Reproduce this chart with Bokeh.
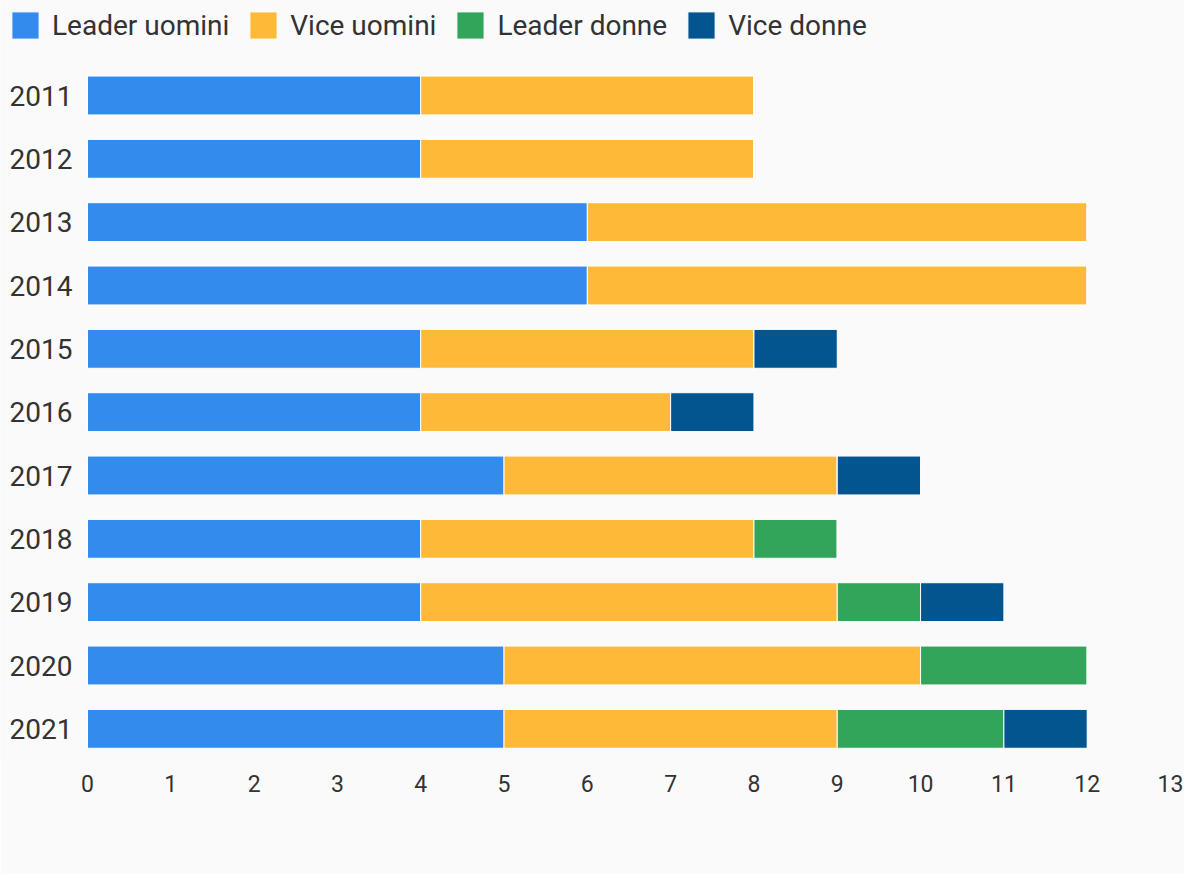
from bokeh.plotting import figure
from bokeh.models import FactorRange, Range1d, Legend, LegendItem, FixedTicker
from bokeh.core.properties import value
from bokeh.embed import file_html
from bokeh.resources import INLINE

years = ["2011", "2012", "2013", "2014", "2015", "2016", "2017", "2018", "2019", "2020", "2021"]
leader_uomini = [4, 4, 6, 6, 4, 4, 5, 4, 4, 5, 5]
vice_uomini = [4, 4, 6, 6, 4, 3, 4, 4, 5, 5, 4]
leader_donne = [0, 0, 0, 0, 0, 0, 0, 1, 1, 2, 2]
vice_donne = [0, 0, 0, 0, 1, 1, 1, 0, 1, 0, 1]
series_names = ["Leader uomini", "Vice uomini", "Leader donne", "Vice donne"]
colors = ["#338BEE", "#FFB938", "#33A55A", "#03558F"]
x_ticks = list(range(0, 14))

FONT = "Roboto"
TXT = "#333333"
BG = "#FAFAFA"

# an empty factor on top reserves the room for the legend
p = figure(width=1184, height=874, output_backend="svg", toolbar_location=None,
           y_range=FactorRange(*reversed(years), " "), x_range=Range1d(-1.044, 13.168),
           min_border_left=0, min_border_right=0, min_border_top=0, min_border_bottom=114)
p.background_fill_color = BG
p.border_fill_color = BG
p.outline_line_color = None
p.xgrid.visible = False
p.ygrid.visible = False

data = dict(year=years, lu=leader_uomini, vu=vice_uomini, ld=leader_donne, vd=vice_donne)
renderers = p.hbar_stack(["lu", "vu", "ld", "vd"], y="year", height=0.614, color=colors,
                         line_color="white", line_width=1, source=data)

# year labels (category axis) drawn as text at x=0
p.text(x=[0] * len(years), y=years, text=years, x_offset=-15, text_align="right",
       text_baseline="middle", text_font=value(FONT), text_font_size="28px", text_color=TXT)
p.yaxis.visible = False

items = [LegendItem(label=n, renderers=[r]) for n, r in zip(series_names, renderers)]
legend = Legend(items=items, orientation="horizontal", location="top_left",
                padding=0, margin=8, spacing=17, label_standoff=10,
                glyph_width=34, glyph_height=34, label_height=34,
                label_text_font=FONT, label_text_font_size="28px", label_text_color=TXT,
                border_line_color=None, background_fill_alpha=0)
p.add_layout(legend, "center")

p.xaxis.ticker = FixedTicker(ticks=x_ticks)
p.xaxis.axis_line_color = None
p.xaxis.major_tick_line_color = None
p.xaxis.minor_tick_line_color = None
p.xaxis.major_label_standoff = 8
p.xaxis.major_label_text_font = FONT
p.xaxis.major_label_text_font_size = "23px"
p.xaxis.major_label_text_color = TXT

open("out.html", "w").write(file_html(p, INLINE))
